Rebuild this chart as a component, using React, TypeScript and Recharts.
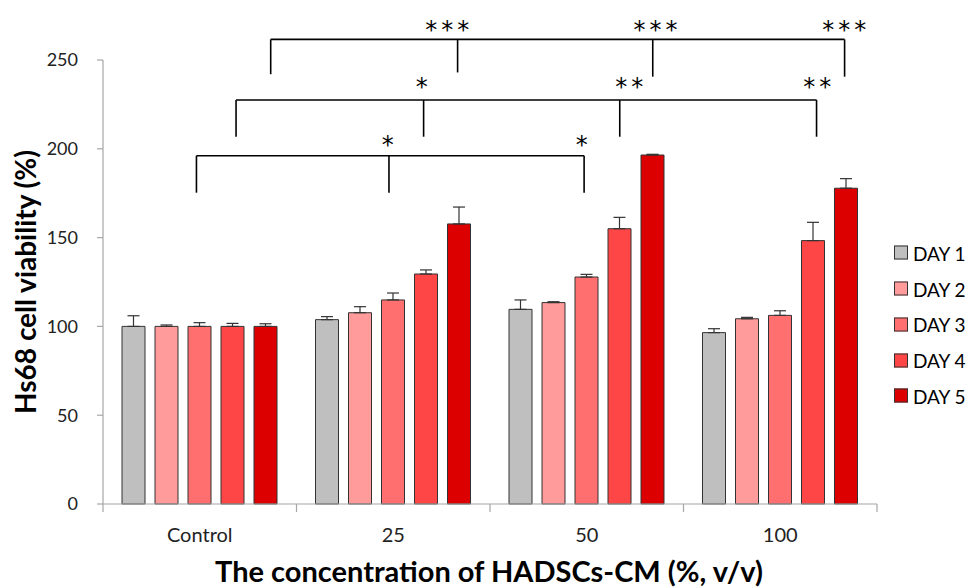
import React from 'react';
import { BarChart, Bar, XAxis, YAxis, ErrorBar, ReferenceLine, ReferenceDot } from 'recharts';

const groups = ['Control', '25', '50', '100'];
const days = ['DAY 1', 'DAY 2', 'DAY 3', 'DAY 4', 'DAY 5'];
const colors = ['#bfbfbf', '#ff9b9b', '#ff6f6f', '#ff4646', '#dc0000'];

const day1 = [100, 103.8, 109.6, 96.5];
const day2 = [100, 107.7, 113.4, 104.3];
const day3 = [100, 114.9, 127.8, 106.2];
const day4 = [100, 129.5, 155.0, 148.3];
const day5 = [100, 157.7, 196.5, 177.8];

const err1 = [6.0, 1.7, 5.3, 2.2];
const err2 = [0.8, 3.4, 0.5, 0.8];
const err3 = [2.1, 3.9, 1.5, 2.6];
const err4 = [1.7, 2.3, 6.4, 10.3];
const err5 = [1.5, 9.5, 0.4, 5.4];

const yTicks = [0, 50, 100, 150, 200, 250];
const groupEdges = [0, 1, 2, 3, 4];

// significance brackets: level (y value), legs = [group, bar position, bottom y]
const brackets = [
  { level: 261.6, legs: [[0, 4.15, 242], [1, 3.95, 243], [2, 4.0, 240.6], [3, 3.95, 240.6]] },
  { level: 227.5, legs: [[0, 3.1, 206.8], [1, 2.92, 206.8], [2, 3.0, 206.8], [3, 3.1, 206.8]] },
  { level: 196.1, legs: [[0, 1.9, 175.3], [1, 1.87, 175.3], [2, 1.92, 175.3]] },
];
// stars: [group, bar position, y, text]
const stars: [number, number, number, string][] = [
  [1, 3.64, 269.7, '***'], [2, 4.08, 269.7, '***'], [3, 3.94, 269.7, '***'],
  [1, 2.86, 237.6, '*'], [2, 3.29, 237.6, '**'], [3, 3.12, 237.6, '**'],
  [1, 1.83, 205, '*'], [2, 1.85, 205, '*'],
];

const series = [day1, day2, day3, day4, day5];
const errs = [err1, err2, err3, err4, err5];

const data = groups.map((g, i) => {
  const row: any = { group: g, pos: i + 0.5 };
  series.forEach((s, k) => {
    row['d' + k] = s[i];
    row['e' + k] = [0, errs[k][i]];
  });
  return row;
});

const W = 970;
const H = 588;
const LEFT = 103;
const RIGHT = 877;
const BAR = 23;
const GAP = 10;
const BAND = (RIGHT - LEFT) / groups.length;
const pos = (g: number, d: number) => g + 0.5 + ((d - 2) * (BAR + GAP)) / BAND;

const FONT = 'Lato, "Open Sans", sans-serif';
const AXIS = '#a6a6a6';

export default function App() {
  return (
    <div style={{ position: 'absolute', left: 0, top: 0, width: W, height: H, background: '#fff', fontFamily: FONT }}>
      <BarChart
        width={W}
        height={H}
        data={data}
        margin={{ top: 60, right: W - RIGHT, left: LEFT - 60, bottom: 44 }}
        barSize={BAR}
        barGap={GAP}
      >
        <XAxis
          dataKey="group"
          height={40}
          axisLine={{ stroke: AXIS, strokeWidth: 1.2 }}
          tickLine={false}
          tickMargin={18}
          tick={{ fill: '#222', fontSize: 20, fontFamily: FONT }}
        />
        <XAxis
          xAxisId="n"
          dataKey="pos"
          type="number"
          domain={[0, 4]}
          ticks={groupEdges}
          allowDataOverflow
          hide
        />
        <YAxis
          width={60}
          domain={[0, 250]}
          ticks={yTicks}
          axisLine={{ stroke: AXIS, strokeWidth: 1.2 }}
          tickLine={{ stroke: AXIS, strokeWidth: 1.2 }}
          tickSize={6}
          tickMargin={19}
          tick={{ fill: '#222', fontSize: 18, fontFamily: FONT }}
        />
        {days.map((d, k) => (
          <Bar key={d} dataKey={'d' + k} name={d} fill={colors[k]} stroke="#333" strokeWidth={1} isAnimationActive={false}>
            <ErrorBar dataKey={'e' + k} direction="y" width={6} stroke="#333" strokeWidth={1.2} />
          </Bar>
        ))}
        {groupEdges.map((e) => (
          <ReferenceLine
            key={'t' + e}
            xAxisId="n"
            ifOverflow="visible"
            stroke={AXIS}
            strokeWidth={1.2}
            segment={[{ x: e, y: 0 }, { x: e, y: -4.5 }]}
          />
        ))}
        {brackets.map((b, i) => {
          const xs = b.legs.map((l) => pos(l[0], l[1]));
          return (
            <React.Fragment key={'b' + i}>
              <ReferenceLine
                xAxisId="n"
                ifOverflow="visible"
                stroke="#000"
                strokeWidth={1.6}
                segment={[{ x: xs[0], y: b.level }, { x: xs[xs.length - 1], y: b.level }]}
              />
              {b.legs.map((l, j) => (
                <ReferenceLine
                  key={j}
                  xAxisId="n"
                  ifOverflow="visible"
                  stroke="#000"
                  strokeWidth={1.6}
                  segment={[{ x: xs[j], y: b.level }, { x: xs[j], y: l[2] }]}
                />
              ))}
            </React.Fragment>
          );
        })}
        {stars.map((s, i) => (
          <ReferenceDot
            key={'s' + i}
            xAxisId="n"
            x={pos(s[0], s[1])}
            y={s[2]}
            ifOverflow="visible"
            shape={(p: any) => (
              <text
                x={p.cx}
                y={p.cy}
                dx={2}
                dy="0.54em"
                textAnchor="middle"
                fontSize={24}
                letterSpacing={4}
                fontFamily='"DejaVu Sans", sans-serif'
                fill="#000"
              >
                {s[3]}
              </text>
            )}
          />
        ))}
      </BarChart>

      <div
        style={{
          position: 'absolute',
          left: 25,
          top: 282,
          transform: 'translate(-50%, -50%) rotate(-90deg)',
          whiteSpace: 'nowrap',
          fontSize: 28,
          fontWeight: 700,
          color: '#000',
        }}
      >
        Hs68 cell viability (%)
      </div>
      <div
        style={{
          position: 'absolute',
          left: 489,
          top: 570,
          transform: 'translate(-50%, -50%)',
          whiteSpace: 'nowrap',
          fontSize: 29,
          lineHeight: 1,
          fontWeight: 700,
          color: '#000',
        }}
      >
        The concentration of HADSCs-CM (%, v/v)
      </div>
      {days.map((d, k) => (
        <div
          key={d}
          style={{
            position: 'absolute',
            left: 894,
            top: 252.7 + k * 35.8,
            transform: 'translateY(-50%)',
            display: 'flex',
            alignItems: 'center',
            fontSize: 19,
            color: '#000',
            whiteSpace: 'nowrap',
          }}
        >
          <span
            style={{
              display: 'inline-block',
              width: 12,
              height: 12,
              background: colors[k],
              border: '1px solid #333',
              marginRight: 5,
            }}
          />
          {d}
        </div>
      ))}
    </div>
  );
}
